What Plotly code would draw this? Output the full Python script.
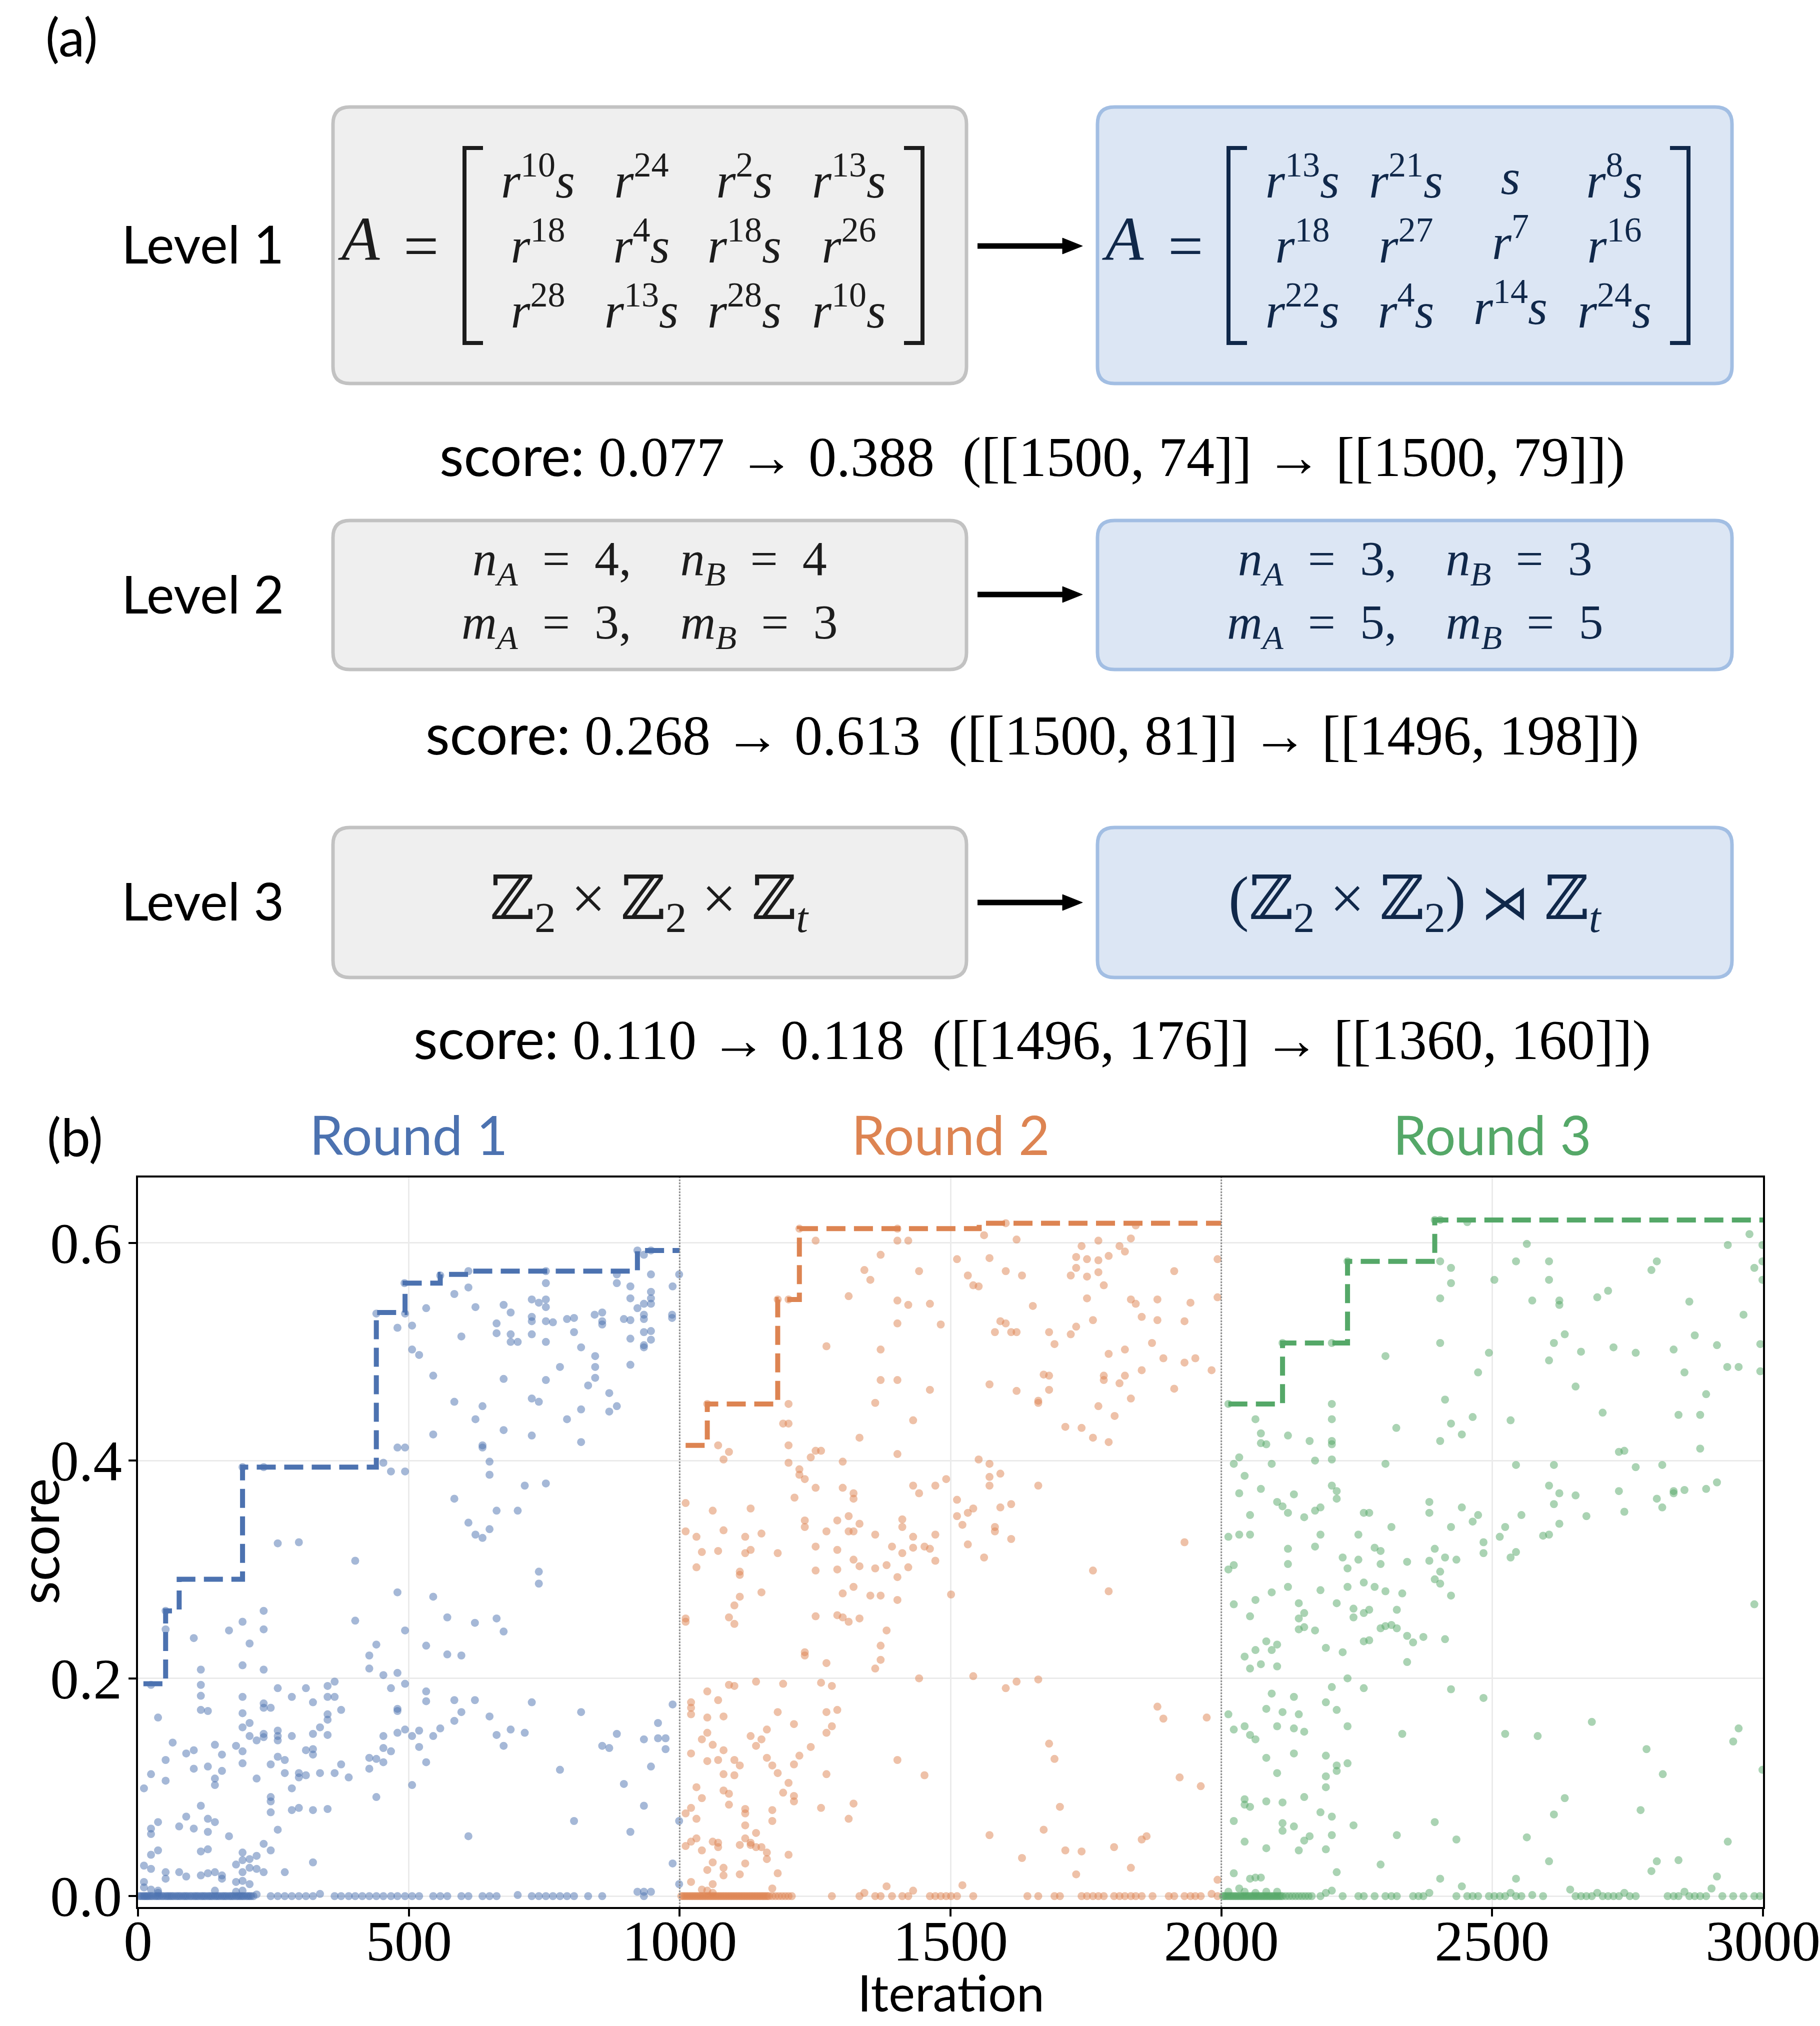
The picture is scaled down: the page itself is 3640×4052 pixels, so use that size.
import plotly.graph_objects as go

W, H = 3640, 4052

# ---------------- data (panel b) ----------------
round_names = ["Round 1", "Round 2", "Round 3"]
round_centers = [500, 1500, 2500]
round_colors = ["#4c72b0", "#dd8452", "#55a868"]
round_bounds = [1000, 2000]

# best-so-far step lines
r1_best_iter = [10, 51, 76, 193, 440, 493, 558, 610, 922, 1000]
r1_best_score = [0.195, 0.262, 0.291, 0.394, 0.536, 0.563, 0.571, 0.574, 0.593, 0.593]
r2_best_iter = [1011, 1051, 1181, 1221, 1553, 2000]
r2_best_score = [0.414, 0.452, 0.548, 0.613, 0.618, 0.618]
r3_best_iter = [2013, 2113, 2233, 2394, 3000]
r3_best_score = [0.452, 0.508, 0.583, 0.621, 0.621]

# (iteration, score) samples with non-zero score
r1_points = [
    (492, .563), (558, .570), (610, .574), (753, .574), (922, .593), (934, .589), (947, .593), (999, .571),
    (947, .571), (884, .571), (884, .563), (909, .560), (987, .560), (584, .553), (610, .559), (753, .563),
    (727, .548), (740, .545), (753, .548), (753, .541), (947, .555), (947, .549), (947, .544), (909, .549),
    (934, .544), (922, .540), (532, .540), (623, .541), (675, .543), (688, .536), (440, .535), (493, .535),
    (727, .532), (727, .528), (753, .528), (766, .527), (792, .530), (805, .531), (843, .534), (857, .536),
    (857, .528), (857, .525), (897, .530), (909, .529), (934, .534), (934, .530), (986, .534), (986, .531),
    (479, .522), (506, .524), (662, .526), (597, .514), (662, .517), (688, .516), (688, .509), (701, .509),
    (727, .516), (753, .509), (805, .518), (909, .512), (934, .518), (947, .519), (947, .511), (934, .506),
    (934, .504), (506, .502), (519, .497), (818, .504), (844, .496), (844, .486), (779, .486), (909, .488),
    (545, .478), (675, .475), (753, .474), (844, .476), (831, .469), (870, .462), (584, .454), (636, .450),
    (727, .457), (740, .454), (818, .447), (884, .450), (870, .445), (623, .438), (792, .438), (545, .424),
    (675, .428), (727, .423), (818, .417), (479, .412), (493, .412), (636, .414), (636, .412), (649, .399),
    (453, .398), (467, .390), (493, .390), (649, .387), (714, .377), (753, .379), (584, .365), (662, .354),
    (701, .354), (610, .343), (649, .337), (623, .332), (636, .329), (193, .394), (232, .394),
    (258, .324), (297, .325), (401, .308), (740, .298), (740, .287), (479, .279), (545, .275), (51, .262),
    (232, .262), (193, .252), (401, .253), (571, .256), (622, .251), (662, .255), (675, .243), (168, .244),
    (232, .245), (493, .244), (51, .245), (103, .237), (206, .232), (440, .231), (532, .230), (427, .221),
    (571, .222), (597, .221), (116, .208), (193, .212), (232, .208), (427, .209), (453, .203), (479, .205),
    (493, .195), (24, .194), (116, .194), (258, .191), (310, .191), (350, .193), (363, .197), (467, .191),
    (532, .188), (116, .184), (193, .183), (284, .183), (350, .183), (363, .183), (323, .178), (584, .180),
    (622, .180), (532, .179), (727, .178), (116, .171), (129, .170), (232, .177), (232, .173), (245, .173),
    (375, .171), (479, .172), (479, .170), (37, .164), (193, .168), (350, .167), (350, .162), (597, .169),
    (649, .165), (818, .169), (987, .176), (193, .155), (206, .159), (336, .155), (584, .161), (960, .159),
    (64, .141), (206, .147), (219, .143), (232, .149), (232, .146), (258, .152), (258, .147), (258, .143),
    (284, .147), (323, .149), (350, .148), (453, .147), (479, .150), (493, .153), (506, .147), (519, .152),
    (545, .147), (558, .154), (662, .148), (688, .153), (714, .150), (884, .149), (934, .144), (960, .145),
    (974, .145), (857, .138), (870, .136), (974, .135), (675, .138), (89, .131), (103, .134), (142, .139),
    (155, .130), (181, .138), (193, .133), (51, .125), (193, .122), (258, .128), (271, .125), (310, .134),
    (323, .135), (323, .130), (375, .121), (427, .127), (440, .126), (453, .123), (453, .136), (467, .133),
    (519, .137), (532, .123), (24, .112), (51, .106), (103, .117), (129, .119), (142, .108), (142, .102),
    (155, .115), (219, .108), (245, .121), (271, .113), (297, .113), (297, .109), (310, .111), (336, .113),
    (363, .113), (389, .109), (427, .117), (779, .116), (947, .119), (897, .103), (506, .102), (11, .099),
    (284, .099), (245, .091), (245, .087), (245, .077), (284, .079), (297, .081), (323, .079), (350, .080),
    (440, .091), (116, .083), (934, .083), (89, .073), (37, .068), (129, .071), (142, .068), (76, .064),
    (103, .062), (129, .059), (24, .062), (24, .057), (258, .061), (168, .055), (610, .055), (805, .069),
    (909, .059), (999, .069), (232, .048), (245, .042), (37, .042), (24, .038), (116, .041), (129, .043),
    (193, .040), (219, .037), (206, .034), (193, .033), (181, .029), (323, .031), (987, .030), (11, .028),
    (24, .025), (51, .022), (51, .016), (76, .022), (89, .018), (116, .019), (129, .021), (142, .022),
    (155, .019), (155, .016), (193, .022), (206, .026), (219, .025), (232, .022), (271, .022), (11, .013),
    (181, .013), (193, .014), (206, .011), (11, .008), (24, .006), (37, .005), (37, .003), (142, .005),
    (181, .004), (193, .005), (336, .002), (219, .0015), (701, .001), (922, .004), (934, .004), (947, .004),
    (999, .011),
]
r1_zero_iters = [2, 5, 8, 11, 13, 16, 18, 21, 24, 27, 31, 34, 37, 40, 44, 47, 51, 54, 57, 60, 63, 66, 70, 73,
                 76, 79, 83, 86, 89, 92, 96, 99, 103, 106, 109, 112, 116, 119, 122, 125, 129, 132, 135, 138,
                 142, 145, 148, 151, 155, 158, 161, 164, 168, 171, 174, 177, 181, 184, 187, 190, 193, 196,
                 200, 203, 206, 209, 213, 245, 258, 271, 284, 297, 310, 323, 363, 375, 389, 401, 414, 427,
                 440, 453, 467, 479, 493, 506, 519, 545, 558, 571, 597, 610, 636, 649, 662, 727, 740, 753,
                 766, 779, 792, 805, 831, 857, 934]

r2_points = [
    (1402, .613), (1602, .618), (1842, .616), (1251, .602), (1402, .602), (1422, .602), (1562, .607),
    (1622, .603), (1773, .602), (1833, .604), (1812, .597), (1742, .597), (1822, .592), (1371, .589),
    (1512, .585), (1572, .586), (1732, .587), (1752, .585), (1773, .584), (1792, .588), (1993, .585),
    (1341, .575), (1442, .574), (1532, .570), (1602, .574), (1632, .570), (1722, .570), (1732, .577),
    (1752, .569), (1773, .573), (1913, .574), (1352, .566), (1542, .561), (1552, .560), (1783, .561),
    (1312, .551), (1402, .547), (1422, .543), (1462, .544), (1752, .549), (1833, .548), (1842, .544),
    (1882, .548), (1943, .545), (1993, .550), (1181, .548), (1201, .548), (1652, .542), (1402, .526),
    (1482, .525), (1592, .528), (1602, .526), (1582, .518), (1612, .518), (1622, .518), (1682, .518),
    (1732, .523), (1722, .516), (1763, .529), (1853, .532), (1882, .529), (1932, .528), (1271, .505),
    (1371, .502), (1692, .507), (1792, .498), (1822, .502), (1872, .508), (1893, .494), (1932, .490),
    (1952, .494), (1982, .483), (1371, .474), (1402, .474), (1462, .465), (1572, .470), (1622, .464),
    (1672, .479), (1682, .478), (1682, .465), (1783, .478), (1783, .474), (1812, .471), (1822, .478),
    (1853, .483), (1913, .466), (1201, .452), (1361, .453), (1662, .455), (1662, .453), (1773, .450),
    (1833, .457), (1803, .441), (1051, .452), (1191, .434), (1201, .434), (1431, .437), (1712, .431),
    (1742, .430), (1763, .421), (1792, .417), (1071, .414), (1091, .408), (1081, .401), (1201, .414),
    (1251, .409), (1261, .409), (1242, .403), (1332, .421), (1402, .406), (1301, .399), (1201, .398),
    (1552, .401), (1572, .397), (1221, .392), (1221, .387), (1231, .383), (1251, .375), (1301, .375),
    (1321, .370), (1321, .365), (1212, .366), (1431, .377), (1442, .370), (1472, .377), (1492, .383),
    (1572, .385), (1572, .377), (1592, .388), (1662, .377), (1011, .361), (1061, .354), (1131, .356),
    (1512, .364), (1532, .352), (1542, .356), (1592, .357), (1612, .360), (1512, .349), (1522, .341),
    (1312, .349), (1291, .345), (1231, .345), (1231, .339), (1332, .342), (1411, .346), (1411, .339),
    (1011, .335), (1081, .336), (1271, .335), (1312, .335), (1321, .335), (1361, .332), (1472, .332),
    (1582, .339), (1582, .335), (1151, .333), (1031, .330), (1121, .330), (1431, .330), (1612, .328),
    (1221, .613),
    (1041, .316), (1071, .317), (1121, .315), (1131, .318), (1181, .315), (1251, .321), (1291, .318),
    (1321, .309), (1332, .303), (1361, .301), (1382, .304), (1392, .321), (1411, .315), (1422, .302),
    (1431, .320), (1452, .321), (1462, .319), (1472, .308), (1532, .323), (1562, .311), (1932, .325),
    (1031, .302), (1111, .298), (1111, .295), (1251, .299), (1291, .300), (1402, .293), (1763, .299),
    (1151, .279), (1111, .275), (1101, .267), (1301, .278), (1321, .284), (1352, .276), (1371, .276),
    (1402, .272), (1501, .277), (1792, .280), (1011, .255), (1011, .252), (1091, .256), (1101, .250),
    (1251, .257), (1291, .258), (1301, .256), (1312, .252), (1332, .255), (1382, .244), (1371, .230),
    (1371, .217), (1361, .209), (1231, .224), (1231, .221), (1271, .214), (1442, .200), (1542, .202),
    (1622, .197), (1662, .199), (1602, .191), (1091, .194), (1101, .193), (1141, .197), (1191, .195),
    (1261, .196), (1281, .193), (1051, .188), (1071, .180), (1021, .178), (1021, .173), (1021, .167),
    (1051, .164), (1081, .165), (1181, .169), (1271, .169), (1291, .171), (1211, .158), (1281, .156),
    (1271, .150), (1161, .153), (1051, .150), (1041, .144), (1131, .147), (1151, .144), (1061, .139),
    (1141, .138), (1242, .137), (1081, .134), (1021, .131), (1221, .129), (1161, .127), (1051, .124),
    (1071, .125), (1101, .125), (1111, .120), (1171, .120), (1211, .121), (1402, .125), (1882, .174),
    (1893, .163), (1973, .164), (1682, .140), (1692, .126), (1081, .112), (1101, .111), (1181, .113),
    (1271, .112), (1452, .111), (1923, .109), (1962, .101), (1201, .104), (1031, .100), (1081, .097),
    (1091, .094), (1191, .095), (1211, .092), (1211, .087), (1041, .090), (1091, .084), (1321, .085),
    (1702, .082), (1261, .081), (1121, .080), (1121, .076), (1171, .079), (1021, .081), (1011, .076),
    (1031, .071), (1171, .069), (1312, .071), (1121, .065), (1141, .058), (1672, .061), (1572, .056),
    (1862, .055), (1853, .052), (1031, .053), (1021, .050), (1061, .050), (1071, .049), (1121, .053),
    (1131, .049), (1011, .046), (1041, .042), (1071, .045), (1111, .047), (1131, .047), (1141, .045),
    (1151, .045), (1161, .040), (1161, .034), (1201, .038), (1802, .045), (1712, .042), (1742, .041),
    (1632, .035), (1061, .031), (1081, .026), (1121, .030), (1051, .024), (1081, .019), (1111, .020),
    (1181, .021), (1833, .026), (1732, .020), (1021, .013), (1061, .011), (1171, .007), (1382, .009),
    (1431, .005), (1522, .010), (1993, .015), (1041, .006), (1051, .005), (1061, .003), (1341, .003),
    (1982, .002),
]
r2_zero_iters = [1003, 1006, 1009, 1012, 1015, 1018, 1021, 1024, 1027, 1030, 1033, 1036, 1039, 1042, 1045,
                 1048, 1051, 1054, 1057, 1060, 1063, 1066, 1069, 1072, 1075, 1078, 1081, 1084, 1087, 1090,
                 1093, 1096, 1099, 1102, 1105, 1108, 1111, 1114, 1117, 1120, 1123, 1126, 1129, 1132, 1135,
                 1138, 1141, 1144, 1147, 1150, 1153, 1156, 1159, 1162, 1165, 1171, 1177, 1183, 1189, 1195,
                 1201, 1207, 1281, 1332, 1361, 1371, 1392, 1411, 1422, 1462, 1472, 1482, 1492, 1501, 1512,
                 1542, 1642, 1662, 1692, 1702, 1742, 1752, 1763, 1773, 1783, 1802, 1812, 1822, 1833, 1842,
                 1853, 1873, 1903, 1913, 1932, 1943, 1952, 1962, 1993]

r3_points = [
    (2404, .621), (2454, .619), (2975, .608), (2564, .599), (2935, .598), (2999, .598), (2404, .583),
    (2544, .583), (2605, .583), (2804, .583), (2424, .577), (2794, .575), (2984, .577), (2999, .583),
    (2424, .563), (2504, .566), (2605, .566), (2999, .566), (2404, .549), (2574, .547), (2624, .547),
    (2624, .543), (2694, .550), (2714, .556), (2864, .546), (2964, .534), (2634, .516), (2874, .515),
    (2204, .508), (2404, .508), (2614, .508), (2915, .506), (2995, .507), (2303, .496), (2494, .499),
    (2664, .500), (2724, .504), (2765, .499), (2835, .502), (2605, .492), (2474, .481), (2855, .481),
    (2934, .486), (2955, .486), (2995, .482), (2654, .468), (2895, .461), (2413, .456), (2204, .452),
    (2204, .438), (2063, .438), (2424, .434), (2464, .440), (2534, .437), (2704, .444), (2844, .442),
    (2884, .442), (2323, .430), (2444, .424), (2073, .425), (2123, .423), (2163, .418), (2204, .418),
    (2204, .415), (2073, .416), (2083, .415), (2404, .418), (2734, .408), (2744, .409), (2884, .411),
    (2033, .403), (2023, .397), (2093, .397), (2173, .400), (2204, .401), (2303, .397), (2544, .396),
    (2614, .396), (2765, .394), (2814, .396), (2043, .386), (2073, .374), (2033, .370), (2134, .369),
    (2204, .377), (2213, .372), (2213, .365), (2605, .377), (2624, .370), (2654, .368), (2734, .372),
    (2804, .365), (2835, .372), (2835, .370), (2855, .373), (2895, .374), (2915, .380), (2103, .362),
    (2113, .358), (2123, .352), (2053, .350), (2153, .348), (2173, .354), (2183, .357), (2263, .352),
    (2273, .352), (2384, .362), (2384, .352), (2444, .357), (2474, .350), (2464, .344), (2424, .339),
    (2314, .339), (2554, .350), (2614, .360), (2624, .342), (2524, .339), (2674, .349), (2744, .353),
    (2814, .357), (2013, .330), (2033, .332), (2053, .332), (2183, .332), (2253, .332), (2514, .330),
    (2594, .331), (2605, .332), (2394, .621), (2233, .583), (2113, .508), (2013, .452),
    (2123, .319), (2173, .321), (2283, .320), (2294, .317), (2394, .319), (2484, .325), (2484, .315),
    (2544, .316), (2534, .311), (2224, .311), (2253, .309), (2343, .307), (2384, .308), (2413, .311),
    (2434, .309), (2013, .300), (2023, .304), (2123, .305), (2233, .301), (2294, .305), (2404, .298),
    (2394, .291), (2404, .287), (2424, .276), (2093, .279), (2123, .284), (2183, .281), (2233, .284),
    (2263, .288), (2283, .284), (2303, .280), (2334, .278), (2063, .272), (2023, .268), (2143, .269),
    (2213, .269), (2244, .264), (2273, .263), (2263, .260), (2324, .263), (2153, .260), (2053, .257),
    (2143, .255), (2244, .256), (2143, .245), (2153, .247), (2173, .244), (2294, .246), (2303, .248),
    (2314, .249), (2324, .246), (2343, .239), (2373, .238), (2354, .233), (2413, .236), (2263, .234),
    (2273, .235), (2083, .234), (2103, .231), (2093, .226), (2063, .226), (2043, .220), (2193, .228),
    (2224, .224), (2073, .213), (2053, .209), (2103, .211), (2343, .215), (2984, .268), (2233, .200),
    (2204, .192), (2263, .191), (2424, .190), (2484, .182), (2093, .186), (2134, .183), (2193, .178),
    (2213, .171), (2013, .167), (2083, .172), (2113, .169), (2143, .167), (2023, .153), (2043, .156),
    (2053, .148), (2063, .144), (2103, .156), (2134, .154), (2153, .151), (2233, .156), (2334, .149),
    (2524, .149), (2584, .147), (2684, .160), (2955, .154), (2945, .142), (2785, .135), (2815, .112),
    (2999, .116), (2083, .127), (2134, .131), (2193, .129), (2213, .120), (2213, .115), (2233, .122),
    (2103, .113), (2193, .110), (2193, .100), (2043, .089), (2043, .084), (2053, .082), (2083, .087),
    (2113, .086), (2153, .091), (2634, .090), (2774, .079), (2614, .075), (2183, .077), (2204, .073),
    (2023, .069), (2113, .067), (2113, .060), (2134, .064), (2244, .065), (2394, .068), (2163, .055),
    (2153, .051), (2204, .056), (2324, .056), (2434, .052), (2564, .054), (2935, .050), (2043, .050),
    (2083, .044), (2143, .042), (2193, .043), (2294, .029), (2605, .032), (2804, .032), (2844, .033),
    (2794, .023), (2023, .021), (2053, .016), (2063, .017), (2073, .017), (2213, .022), (2404, .016),
    (2544, .016), (2915, .018), (2444, .009), (2644, .006), (2905, .007), (2204, .005), (2193, .003),
    (2384, .003), (2534, .003), (2694, .003), (2744, .003), (2855, .004), (2574, .001), (2033, .007),
    (2013, .004), (2043, .004), (2063, .003), (2083, .004), (2103, .004),
]
r3_zero_iters = [2003, 2005, 2008, 2011, 2014, 2017, 2020, 2023, 2026, 2029, 2032, 2035, 2038, 2041, 2044,
                 2047, 2050, 2053, 2056, 2059, 2062, 2065, 2068, 2071, 2074, 2077, 2080, 2083, 2086, 2089,
                 2092, 2095, 2098, 2101, 2104, 2107, 2110, 2113, 2119, 2125, 2131, 2137, 2143, 2149, 2155,
                 2161, 2167, 2183, 2224, 2253, 2263, 2283, 2303, 2314, 2324, 2354, 2364, 2373, 2434, 2454,
                 2464, 2474, 2494, 2504, 2514, 2524, 2544, 2554, 2594, 2654, 2664, 2674, 2684, 2704, 2714,
                 2724, 2734, 2754, 2765, 2824, 2835, 2844, 2864, 2874, 2884, 2895, 2925, 2945, 2964, 2984,
                 2994]

x_ticks = [0, 500, 1000, 1500, 2000, 2500, 3000]
y_ticks = [0.0, 0.2, 0.4, 0.6]
y_ticklabels = ["0.0", "0.2", "0.4", "0.6"]

# ---------------- text (panel a) ----------------
level_labels = ["Level 1", "Level 2", "Level 3"]
matrix_before = [["r10s", "r24", "r2s", "r13s"],
                 ["r18", "r4s", "r18s", "r26"],
                 ["r28", "r13s", "r28s", "r10s"]]
matrix_after = [["r13s", "r21s", "s", "r8s"],
                ["r18", "r27", "r7", "r16"],
                ["r22s", "r4s", "r14s", "r24s"]]
EQ = "\u2002=\u2002"
level2_before = [f"<i>n</i><sub><i>A</i></sub>{EQ}4,\u2003<i>n</i><sub><i>B</i></sub>{EQ}4",
                 f"<i>m</i><sub><i>A</i></sub>{EQ}3,\u2003<i>m</i><sub><i>B</i></sub>{EQ}3"]
level2_after = [f"<i>n</i><sub><i>A</i></sub>{EQ}3,\u2003<i>n</i><sub><i>B</i></sub>{EQ}3",
                f"<i>m</i><sub><i>A</i></sub>{EQ}5,\u2003<i>m</i><sub><i>B</i></sub>{EQ}5"]
level3_before = "\u2124<sub>2</sub> \u00d7 \u2124<sub>2</sub> \u00d7 \u2124<sub><i>t</i></sub>"
level3_after = ("(\u2124<sub>2</sub> \u00d7 \u2124<sub>2</sub>) "
                "<span style=\"font-family:DejaVu Serif;font-size:96px\">\u22ca</span> \u2124<sub><i>t</i></sub>")
score_lines = [
    "0.077 \u2192 0.388\u2002([[1500, 74]] \u2192 [[1500, 79]])",
    "0.268 \u2192 0.613\u2002([[1500, 81]] \u2192 [[1496, 198]])",
    "0.110 \u2192 0.118\u2002([[1496, 176]] \u2192 [[1360, 160]])",
]

# ---------------- helpers ----------------
SANS = "Lato, Open Sans, sans-serif"
SERIF = "Liberation Serif, Tinos, Times New Roman, DejaVu Serif, Noto Serif, serif"
GRAY_TXT = "#1c1c1c"
BLUE_TXT = "#10284a"


def X(p):
    return p / W


def Y(p):
    return 1 - p / H


def rrect(x0, y0, x1, y1, r):
    pts = [("M", x0 + r, y0), ("L", x1 - r, y0), ("Q", x1, y0, x1, y0 + r), ("L", x1, y1 - r),
           ("Q", x1, y1, x1 - r, y1), ("L", x0 + r, y1), ("Q", x0, y1, x0, y1 - r), ("L", x0, y0 + r),
           ("Q", x0, y0, x0 + r, y0)]
    s = ""
    for p in pts:
        if p[0] == "Q":
            s += f"Q {X(p[1]):.6f},{Y(p[2]):.6f} {X(p[3]):.6f},{Y(p[4]):.6f} "
        else:
            s += f"{p[0]} {X(p[1]):.6f},{Y(p[2]):.6f} "
    return s + "Z"


def entry_html(e):
    if e.startswith("r"):
        rest = e[1:]
        num = rest.rstrip("s")
        out = "<i>r</i>" + (f"<sup>{num}</sup>" if num else "")
        if rest.endswith("s"):
            out += "<i>s</i>"
    else:
        out = "<i>s</i>"
    return out


annotations = []
shapes = []


def ann(text, x, y, size, color="black", family=SERIF, xanchor="center", yanchor="middle", angle=0,
        xref="paper"):
    annotations.append(dict(text=text, x=x if xref != "paper" else X(x), y=Y(y), xref=xref, yref="paper",
                            showarrow=False, xanchor=xanchor, yanchor=yanchor, textangle=angle,
                            align="center", font=dict(family=family, size=size, color=color)))


fig = go.Figure()

# ---------------- panel (b) traces ----------------
rounds = [(r1_points, r1_zero_iters, r1_best_iter, r1_best_score),
          (r2_points, r2_zero_iters, r2_best_iter, r2_best_score),
          (r3_points, r3_zero_iters, r3_best_iter, r3_best_score)]
for (pts, zeros, bi, bs), col in zip(rounds, round_colors):
    xs = [p[0] for p in pts] + zeros
    ys = [p[1] for p in pts] + [0.0 for _ in zeros]
    fig.add_trace(go.Scatter(x=xs, y=ys, mode="markers", hoverinfo="skip",
                             marker=dict(size=16, color=col, opacity=0.5, line=dict(width=0))))
for (pts, zeros, bi, bs), col in zip(rounds, round_colors):
    fig.add_trace(go.Scatter(x=bi, y=bs, mode="lines", hoverinfo="skip",
                             line=dict(color=col, width=10, dash="38px,17px", shape="hv")))

for b in round_bounds:
    shapes.append(dict(type="line", xref="x", yref="y domain", x0=b, x1=b, y0=0, y1=1,
                       line=dict(color="#8a8a8a", width=3, dash="dot"), layer="above"))

for name, cx, col in zip(round_names, round_centers, round_colors):
    ann(name, cx, 2268, 108, color=col, family=SANS, xref="x")

ann("(b)", 150, 2272, 105, family=SANS)
ann("score", 76, 3083, 108, family=SANS, angle=-90)
ann("Iteration", 1902, 3984, 100, family=SANS)

# ---------------- panel (a) ----------------
ann("(a)", 143, 72, 105, family=SANS)
level_y = [486, 1186, 1800]
for lab, yy in zip(level_labels, level_y):
    ann(lab, 405, yy, 105, family=SANS)

boxes = [(214, 767), (1041, 1339), (1655, 1955)]
for (t, b) in boxes:
    shapes.append(dict(type="path", xref="paper", yref="paper", path=rrect(666, t, 1933, b, 34),
                       fillcolor="#efefef", line=dict(color="#c2c2c2", width=7), layer="above"))
    shapes.append(dict(type="path", xref="paper", yref="paper", path=rrect(2195, t, 3464, b, 34),
                       fillcolor="#dce6f4", line=dict(color="#a2bee3", width=7), layer="above"))

arrow_y = [492, 1189, 1805]
for ay in arrow_y:
    shapes.append(dict(type="line", xref="paper", yref="paper", x0=X(1955), x1=X(2135), y0=Y(ay), y1=Y(ay),
                       line=dict(color="black", width=11), layer="above"))
    shapes.append(dict(type="path", xref="paper", yref="paper",
                       path=f"M {X(2125)},{Y(ay - 16)} L {X(2165)},{Y(ay)} L {X(2125)},{Y(ay + 16)} Z",
                       fillcolor="black", line=dict(color="black", width=1), layer="above"))


def bracket(xl, xr, top, bot, color):
    s = 37
    for x, d in ((xl, 1), (xr, -1)):
        path = (f"M {X(x + d * s)},{Y(top)} L {X(x)},{Y(top)} L {X(x)},{Y(bot)} L {X(x + d * s)},{Y(bot)}")
        shapes.append(dict(type="path", xref="paper", yref="paper", path=path,
                           line=dict(color=color, width=8), layer="above"))


bracket(929, 1845, 296, 686, GRAY_TXT)
bracket(2457, 3377, 296, 686, BLUE_TXT)

ann("<i>A</i>", 718, 478, 125, color=GRAY_TXT)
ann("=", 842, 492, 125, color=GRAY_TXT)
ann("<i>A</i>", 2246, 478, 125, color=BLUE_TXT)
ann("=", 2371, 492, 125, color=BLUE_TXT)

cols_before = [1076, 1283, 1489, 1698]
cols_after = [2605, 2812, 3021, 3229]
for ci in range(4):
    ann("<br>".join(entry_html(matrix_before[ri][ci]) for ri in range(3)), cols_before[ci], 484, 100,
        color=GRAY_TXT)
    ann("<br>".join(entry_html(matrix_after[ri][ci]) for ri in range(3)), cols_after[ci], 484, 100,
        color=BLUE_TXT)

ann("<br>".join(level2_before), 1299, 1188, 98, color=GRAY_TXT)
ann("<br>".join(level2_after), 2830, 1188, 98, color=BLUE_TXT)

ann(level3_before, 1299, 1805, 122, color=GRAY_TXT)
ann(level3_after, 2830, 1805, 122, color=BLUE_TXT)

score_y = [909, 1465, 2074]
for txt, yy in zip(score_lines, score_y):
    ann('<span style="font-family:Lato">score:</span> ' + txt, 2064, yy, 112)

# ---------------- layout ----------------
axis_common = dict(showline=True, linecolor="black", linewidth=4, mirror=True, ticks="outside",
                   ticklen=15, tickwidth=4, tickcolor="black", showgrid=True, gridcolor="#ebebeb",
                   gridwidth=3, zeroline=False, automargin=False, ticklabeloverflow="allow",
                   tickfont=dict(family=SERIF, size=115, color="black"))
fig.update_layout(
    width=W, height=H, margin=dict(l=0, r=0, t=0, b=0, pad=0),
    paper_bgcolor="white", plot_bgcolor="white", showlegend=False,
    xaxis=dict(domain=[X(276), X(3526)], range=[0, 3000], tickvals=x_ticks,
               ticklabelstandoff=-50, **axis_common),
    yaxis=dict(domain=[Y(3814), Y(2355)], range=[-0.01, 0.66], tickvals=y_ticks, ticktext=y_ticklabels,
               ticklabelstandoff=-10, **axis_common),
    annotations=annotations, shapes=shapes,
)

fig.write_html("out.html", config={"displayModeBar": False})
